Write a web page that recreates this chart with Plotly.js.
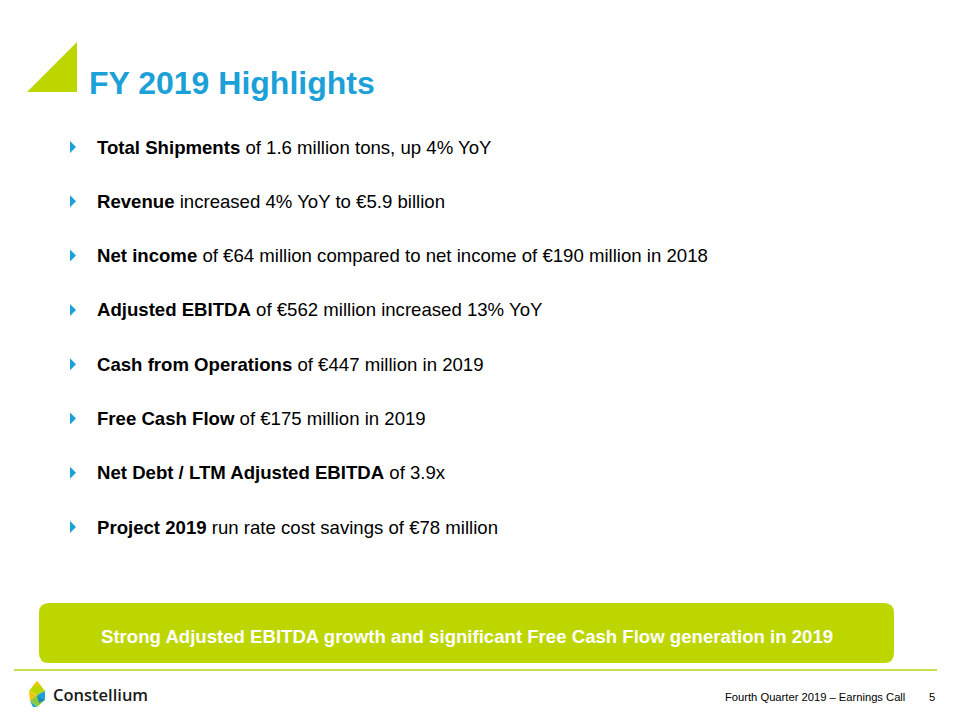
<!DOCTYPE html>
<html>
<head>
<meta charset="utf-8">
<script src="https://cdn.plot.ly/plotly-3.0.1.min.js"></script>
<style>html,body{margin:0;padding:0;background:#fff;}#chart{width:960px;height:720px;}</style>
</head>
<body>
<div id="chart"></div>
<script>
const titleText = "FY 2019 Highlights";
const bulletBold = ["Total Shipments", "Revenue", "Net income", "Adjusted EBITDA", "Cash from Operations", "Free Cash Flow", "Net Debt / LTM Adjusted EBITDA", "Project 2019"];
const bulletRest = [" of 1.6 million tons, up 4% YoY", " increased 4% YoY to €5.9 billion", " of €64 million compared to net income of €190 million in 2018", " of €562 million increased 13% YoY", " of €447 million in 2019", " of €175 million in 2019", " of 3.9x", " run rate cost savings of €78 million"];
const bannerText = "Strong Adjusted EBITDA growth and significant Free Cash Flow generation in 2019";
const footerText = "Fourth Quarter 2019 – Earnings Call";
const pageNumber = "5";
const logoText = "Constellium";

const BLUE = "#1BA1D8";
const LIME = "#BED600";
const FONT = "Liberation Sans, Arial, sans-serif";

const bulletY0 = 147, bulletStep = 54.3;
const shapes = [];
const annotations = [];

// title triangle
shapes.push({type:"path", path:"M 27 92 L 77 42 L 77 92 Z", fillcolor:LIME, line:{width:0}, layer:"above"});
annotations.push({x:87, y:83, xref:"x", yref:"y", xanchor:"left", yanchor:"middle", showarrow:false,
  text:"<b>"+titleText+"</b>", font:{family:FONT, size:32, color:BLUE}});

bulletBold.forEach((b, i) => {
  const y = bulletY0 + i*bulletStep;
  shapes.push({type:"path", path:`M 70 ${y-6} L 76 ${y} L 70 ${y+6} Z`, fillcolor:BLUE, line:{width:0}});
  annotations.push({x:95, y:y, xref:"x", yref:"y", xanchor:"left", yanchor:"middle", showarrow:false,
    text:"<b>"+b+"</b>"+bulletRest[i], font:{family:FONT, size:18.6, color:"#000"}});
});

// banner
const bx0=39, bx1=894, by0=603, by1=663, r=10;
shapes.push({type:"path", path:`M ${bx0+r} ${by0} L ${bx1-r} ${by0} Q ${bx1} ${by0} ${bx1} ${by0+r} L ${bx1} ${by1-r} Q ${bx1} ${by1} ${bx1-r} ${by1} L ${bx0+r} ${by1} Q ${bx0} ${by1} ${bx0} ${by1-r} L ${bx0} ${by0+r} Q ${bx0} ${by0} ${bx0+r} ${by0} Z`,
  fillcolor:LIME, line:{width:0}});
annotations.push({x:(bx0+bx1)/2, y:636, xref:"x", yref:"y", xanchor:"center", yanchor:"middle", showarrow:false,
  text:"<b>"+bannerText+"</b>", font:{family:FONT, size:18.6, color:"#fff"}});

// separator line
shapes.push({type:"line", x0:14, x1:937, y0:670, y1:670, line:{color:"#C9DD4A", width:2}});

// logo mark
shapes.push({type:"path", path:"M 37 681 L 45 691 L 37 695 L 29 691 Z", fillcolor:"#BED600", line:{width:0}});
shapes.push({type:"path", path:"M 37 681 L 41 686 L 33 686 Z", fillcolor:"#F2C500", line:{width:0}});
shapes.push({type:"path", path:"M 45 691 L 45 700 L 37 695 Z", fillcolor:"#1BA1D8", line:{width:0}});
shapes.push({type:"path", path:"M 29 691 L 37 695 L 30 701 Z", fillcolor:"#F2C500", line:{width:0}});
shapes.push({type:"path", path:"M 37 695 L 45 700 L 37 707 L 30 701 Z", fillcolor:"#8DC63F", line:{width:0}});
shapes.push({type:"path", path:"M 37 695 L 45 700 L 39 703 Z", fillcolor:"#0E8FC0", line:{width:0}});
shapes.push({type:"path", path:"M 30 701 L 37 707 L 33 707 Z", fillcolor:"#1BA1D8", line:{width:0}});
annotations.push({x:51, y:694, xref:"x", yref:"y", xanchor:"left", yanchor:"middle", showarrow:false,
  text:logoText, font:{family:"Open Sans, sans-serif", size:16.5, weight:600, color:"#1a1a1a"}});

// footer
annotations.push({x:907, y:697, xref:"x", yref:"y", xanchor:"right", yanchor:"middle", showarrow:false,
  text:footerText, font:{family:FONT, size:11.2, color:"#000"}});
annotations.push({x:937, y:697, xref:"x", yref:"y", xanchor:"right", yanchor:"middle", showarrow:false,
  text:pageNumber, font:{family:FONT, size:11.2, color:"#000"}});

const layout = {
  width:960, height:720,
  margin:{l:0, r:0, t:0, b:0},
  paper_bgcolor:"#fff", plot_bgcolor:"#fff",
  xaxis:{range:[0,960], visible:false, fixedrange:true},
  yaxis:{range:[720,0], visible:false, fixedrange:true},
  showlegend:false,
  shapes:shapes,
  annotations:annotations
};
Plotly.newPlot("chart", [{x:[], y:[], type:"scatter"}], layout, {displayModeBar:false, staticPlot:true});
</script>
</body>
</html>
